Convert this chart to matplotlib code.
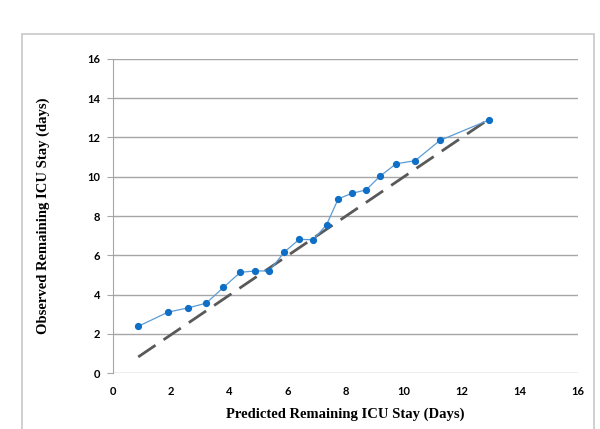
import matplotlib
matplotlib.use("Agg")
import matplotlib.pyplot as plt
from matplotlib.patches import Rectangle

predicted = [0.87, 1.89, 2.59, 3.21, 3.80, 4.38, 4.89, 5.38, 5.90, 6.41,
             6.89, 7.35, 7.75, 8.21, 8.71, 9.19, 9.74, 10.40, 11.25, 12.95]
observed = [2.38, 3.10, 3.32, 3.56, 4.36, 5.13, 5.20, 5.20, 6.17, 6.81,
            6.79, 7.56, 8.87, 9.15, 9.33, 10.03, 10.66, 10.82, 11.85, 12.90]
ticks = [0, 2, 4, 6, 8, 10, 12, 14, 16]

fig = plt.figure(figsize=(6.0, 4.29), dpi=100)
ax = fig.add_axes([0.1883, 0.1305, 0.775, 0.732])

# outer chart frame
fig.patches.append(Rectangle((22 / 600, -0.05), (594 - 22) / 600, 1 - 34 / 429 + 0.05,
                             transform=fig.transFigure, fill=False,
                             edgecolor="#c8c8c8", linewidth=1.2))

# identity line
ax.plot([predicted[0], predicted[-1]], [predicted[0] - 0.05, predicted[-1]],
        color="#595959", linewidth=2.0, linestyle=(0, (7.5, 3.5)), zorder=2)
ax.plot(predicted, observed, color="#5b9bd5", linewidth=0.9, zorder=3)
ax.plot(predicted, observed, linestyle="none", marker="o", markersize=4.2,
        color="#0f6fc6", zorder=4)

ax.set_xlim(0, 16)
ax.set_ylim(0, 16)
ax.set_xticks(ticks)
ax.set_yticks(ticks)
ax.set_xticklabels([str(t) for t in ticks], fontsize=8, fontweight="bold", family="Lato")
ax.set_yticklabels([str(t) for t in ticks], fontsize=8, fontweight="bold", family="Lato")
ax.grid(axis="y", color="#a6a6a6", linewidth=1.0)
ax.set_axisbelow(True)
for s in ["top", "right", "bottom"]:
    ax.spines[s].set_visible(False)
ax.spines["left"].set_color("#a6a6a6")
ax.tick_params(axis="y", length=4, color="#a6a6a6", pad=5)
ax.tick_params(axis="x", length=0, pad=9)

ax.set_xlabel("Predicted Remaining ICU Stay (Days)", fontsize=10.5, fontweight="bold",
              family="Liberation Serif", labelpad=8)
ax.set_ylabel("Observed Remaining ICU Stay (days)", fontsize=10.5, fontweight="bold",
              family="Liberation Serif", labelpad=27)

fig.savefig("out.png", dpi=100)
